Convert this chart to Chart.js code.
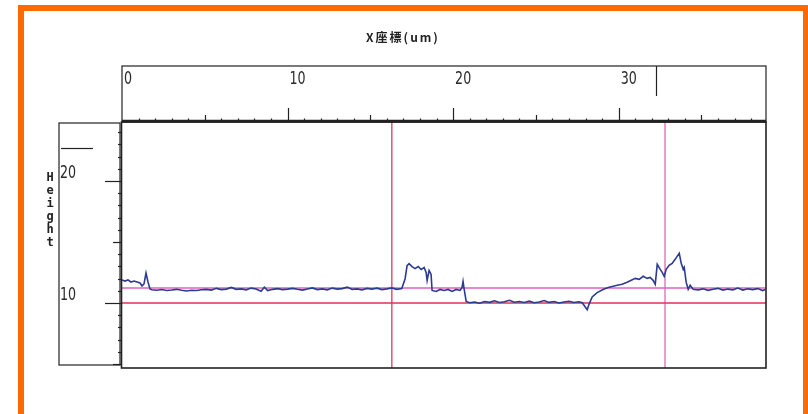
<!DOCTYPE html>
<html>
<head>
<meta charset="utf-8">
<script src="https://cdn.jsdelivr.net/npm/chart.js@4.4.0/dist/chart.umd.min.js"></script>
<style>
  html, body { margin:0; padding:0; background:#fff; }
  #wrap { position:relative; width:808px; height:414px; overflow:hidden; }
  #frame { position:absolute; left:18px; top:5px; width:791px; height:430px; box-sizing:border-box; border:6px solid #ff6a00; pointer-events:none; }
  #title { position:absolute; left:0; width:806px; top:28px; text-align:center; font:bold 12px "Noto Sans CJK JP","DejaVu Sans",sans-serif; letter-spacing:2px; color:#222; }
  canvas { position:absolute; left:0; top:0; }
</style>
</head>
<body>
<div id="wrap">
  <canvas id="profile" width="808" height="414"></canvas>
  <div id="frame"></div>
  <div id="title">X座標(um)</div>
</div>
<script>
// ========= data (um / height) =========
const profileX = [
  0, 0.18, 0.36, 0.54, 0.73, 0.91, 1.09, 1.21, 1.33, 1.45, 1.57, 1.69,
  1.8, 2.1, 2.4, 2.7, 3.0, 3.3, 3.6, 3.9, 4.2, 4.5, 4.8, 5.1, 5.4, 5.7, 6.0, 6.3, 6.6, 6.9,
  7.2, 7.5, 7.8, 8.1, 8.4, 8.6, 8.8, 9.1, 9.4, 9.7, 10.0, 10.3, 10.6, 10.9, 11.2, 11.5, 11.8,
  12.1, 12.4, 12.7, 13.0, 13.3, 13.6, 13.9, 14.2, 14.5, 14.8, 15.1, 15.4, 15.7, 16.0, 16.3, 16.6, 16.9,
  17.10, 17.22, 17.34, 17.52, 17.70, 17.89, 18.07, 18.25, 18.37, 18.43, 18.55, 18.67, 18.73,
  18.97, 19.21, 19.46, 19.70, 19.94, 20.18, 20.42, 20.54, 20.60, 20.66, 20.79,
  21.0, 21.3, 21.6, 21.9, 22.2, 22.5, 22.8, 23.1, 23.4, 23.7, 24.0, 24.3, 24.6, 24.9, 25.2, 25.5,
  25.8, 26.1, 26.4, 26.7, 27.0, 27.3, 27.6, 27.8,
  28.10, 28.22, 28.40, 28.70, 29.06, 29.37, 29.61, 29.91, 30.21, 30.51, 30.76, 31.00, 31.24, 31.48,
  31.72, 31.90, 32.08, 32.21, 32.33, 32.51, 32.63, 32.75, 32.87, 33.05, 33.23, 33.41, 33.66, 33.78,
  33.90, 33.96, 34.08, 34.20, 34.32, 34.50,
  34.8, 35.1, 35.4, 35.7, 36.0, 36.3, 36.6, 36.9, 37.2, 37.5, 37.8, 38.1, 38.4, 38.7, 38.85
];
const profileY = [
  11.89, 11.80, 11.89, 11.72, 11.80, 11.72, 11.64, 11.40, 11.56, 12.46, 11.72, 11.15,
  11.08, 11.05, 11.10, 11.02, 11.06, 11.12, 11.04, 10.98, 11.05, 11.02, 11.08, 11.12, 11.06, 11.20, 11.10, 11.14, 11.28, 11.12,
  11.16, 11.08, 11.22, 11.14, 10.96, 11.30, 11.02, 11.12, 11.18, 11.10, 11.14, 11.20, 11.12, 11.06, 11.15, 11.24, 11.10,
  11.16, 11.08, 11.22, 11.14, 11.18, 11.30, 11.12, 11.16, 11.08, 11.20, 11.14, 11.22, 11.10, 11.16, 11.24, 11.12, 11.18,
  11.99, 13.06, 13.22, 12.98, 12.82, 12.99, 12.74, 12.91, 12.50, 11.85, 12.67, 12.34, 11.03,
  10.95, 11.11, 11.03, 11.11, 10.95, 11.11, 11.03, 11.27, 11.76, 11.19, 10.13,
  10.02, 10.08, 9.98, 10.12, 10.05, 10.18, 10.04, 10.10, 10.22, 10.06, 10.12, 10.04, 10.15, 10.02, 10.08, 10.20,
  10.05, 10.12, 10.00, 10.08, 10.14, 10.04, 10.10, 10.02,
  9.44, 9.93, 10.50, 10.85, 11.10, 11.27, 11.36, 11.45, 11.53, 11.70, 11.86, 12.02, 11.94, 12.19,
  12.02, 12.10, 11.86, 11.53, 13.17, 12.76, 12.51, 12.19, 12.76, 13.09, 13.25, 13.58, 14.07, 13.25,
  12.76, 12.92, 11.69, 11.12, 11.45, 11.12,
  11.08, 11.16, 11.04, 11.12, 11.20, 11.06, 11.14, 11.08, 11.22, 11.06, 11.16, 11.10, 11.18, 11.02, 11.10
];
const xRange = [0, 38.9];
const yRange = [4.67, 24.84];
const topTickLabels = ["0", "10", "20", "30"];
const sideTickLabels = ["10", "20"];
const levelLines = [11.23, 10.0];      // magenta, red
const cursorLines = [16.3, 32.8];      // vertical cursors
const topMarkX = 32.27;
const sideMarkY = 22.7;

const lineColors = { profile:"#2b3b8f", levelA:"#e25fc0", levelB:"#e0305a", curA:"#d8284c", curB:"#e05aa8" };
const tickFont = '18px "DejaVu Sans Condensed","DejaVu Sans",sans-serif';

// ========= datasets =========
const profilePts = profileX.map((x, i) => ({ x: x, y: profileY[i] }));
const datasets = [
  { data: profilePts, borderColor: lineColors.profile, borderWidth: 1.6 },
  { data: [{x:xRange[0], y:levelLines[0]}, {x:xRange[1], y:levelLines[0]}], borderColor: lineColors.levelA, borderWidth: 1.3 },
  { data: [{x:xRange[0], y:levelLines[1]}, {x:xRange[1], y:levelLines[1]}], borderColor: lineColors.levelB, borderWidth: 1.3 },
  { data: [{x:cursorLines[0], y:yRange[0]}, {x:cursorLines[0], y:yRange[1]}], borderColor: lineColors.curA, borderWidth: 1.2 },
  { data: [{x:cursorLines[1], y:yRange[0]}, {x:cursorLines[1], y:yRange[1]}], borderColor: lineColors.curB, borderWidth: 1.2 }
].map(d => Object.assign({ pointRadius:0, tension:0, fill:false }, d));

// narrow plotter-like digits
function narrowText(ctx, t, px, py) {
  ctx.save();
  ctx.translate(px, py);
  ctx.scale(0.78, 1);
  ctx.fillText(t, 0, 0);
  ctx.restore();
}

// ========= axes / frames drawn from the scales =========
const scopeFrame = {
  id: "scopeFrame",
  afterDraw(chart) {
    const { ctx, chartArea: a, scales: { x, y } } = chart;
    ctx.save();
    ctx.strokeStyle = "#222";
    ctx.fillStyle = "#2a2a2a";

    // top axis box
    const boxTop = a.top - 56;
    ctx.lineWidth = 1.2;
    ctx.strokeRect(a.left, boxTop, a.right - a.left, a.top - boxTop);
    // top ticks
    for (let v = 1; v <= 38; v++) {
      const px = Math.round(x.getPixelForValue(v)) + 0.5;
      const len = v % 10 === 0 ? 14 : (v % 5 === 0 ? 7 : 3.5);
      ctx.beginPath(); ctx.moveTo(px, a.top); ctx.lineTo(px, a.top - len); ctx.stroke();
    }
    ctx.font = tickFont;
    ctx.textBaseline = "top";
    ctx.textAlign = "left";
    topTickLabels.forEach(t => {
      narrowText(ctx, t, x.getPixelForValue(Number(t)) + 2, boxTop + 4);
    });
    // marker in top box
    const mx = Math.round(x.getPixelForValue(topMarkX)) + 0.5;
    ctx.beginPath(); ctx.moveTo(mx, boxTop); ctx.lineTo(mx, boxTop + 30); ctx.stroke();

    // left axis box
    ctx.strokeRect(a.left - 63, a.top + 1, 61, a.bottom - a.top - 4);
    ctx.beginPath();
    const sy = Math.round(y.getPixelForValue(sideMarkY)) + 0.5;
    ctx.moveTo(a.left - 61, sy); ctx.lineTo(a.left - 29, sy); ctx.stroke();
    // left ticks
    for (let v = 5; v <= 24; v++) {
      const py = Math.round(y.getPixelForValue(v)) + 0.5;
      const len = v % 10 === 0 ? 17 : (v % 5 === 0 ? 9 : 4);
      ctx.beginPath(); ctx.moveTo(a.left, py); ctx.lineTo(a.left - len, py); ctx.stroke();
    }
    ctx.textBaseline = "alphabetic";
    sideTickLabels.forEach(t => {
      narrowText(ctx, t, a.left - 62, y.getPixelForValue(Number(t)) - 3);
    });
    // "Height" stacked
    ctx.font = 'bold 12px "DejaVu Sans Mono",monospace';
    ctx.textAlign = "center";
    ctx.textBaseline = "middle";
    ctx.fillStyle = "#222";
    "Height".split("").forEach((ch, i) => {
      ctx.fillText(ch, a.left - 72, a.top + 56 + i * 13);
    });

    // plot frame
    ctx.lineWidth = 1.6;
    ctx.strokeRect(a.left - 0.5, a.top, a.right - a.left + 0.5, a.bottom - a.top);
    ctx.lineWidth = 2.5;
    ctx.beginPath(); ctx.moveTo(a.left, a.top - 1); ctx.lineTo(a.right, a.top - 1); ctx.stroke();
    ctx.restore();
  }
};

new Chart(document.getElementById("profile"), {
  type: "line",
  data: { datasets: datasets },
  options: {
    responsive: false,
    animation: false,
    parsing: false,
    layout: { padding: { left: 122, top: 122, right: 42, bottom: 46 } },
    plugins: { legend: { display: false }, tooltip: { enabled: false } },
    scales: {
      x: { type: "linear", display: false, min: xRange[0], max: xRange[1] },
      y: { type: "linear", display: false, min: yRange[0], max: yRange[1] }
    }
  },
  plugins: [scopeFrame]
});
</script>
</body>
</html>
